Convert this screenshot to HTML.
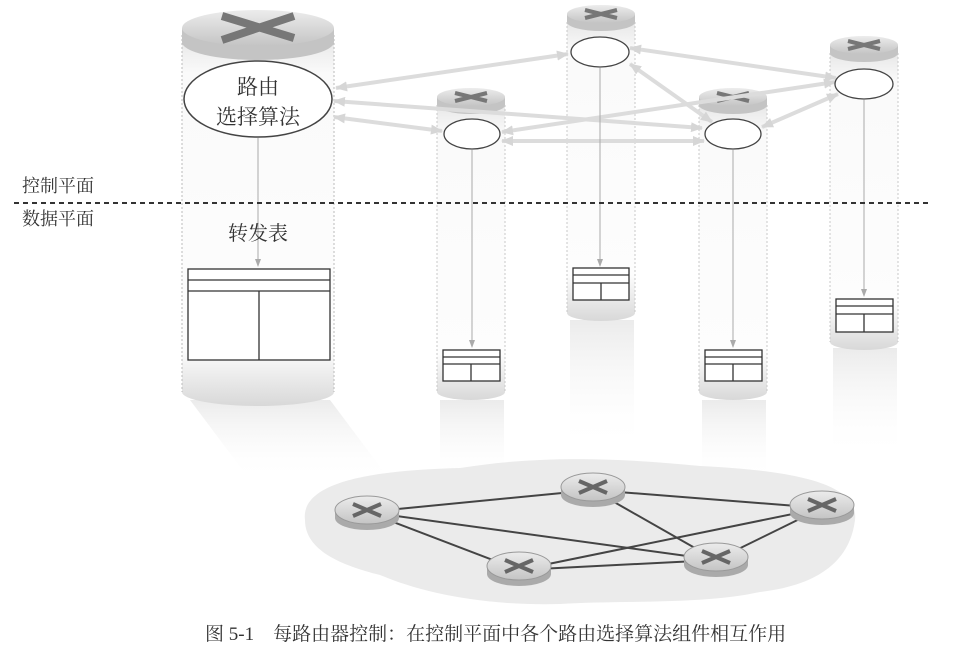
<!DOCTYPE html>
<html><head><meta charset="utf-8"><style>
body{margin:0;background:#fff;}
svg{display:block;font-family:"Liberation Serif","Noto Serif CJK SC",serif;}
</style></head><body>
<svg width="954" height="663" viewBox="0 0 954 663">
<defs>
<linearGradient id="cap" x1="0" y1="0" x2="0" y2="1"><stop offset="0" stop-color="#ececec"/><stop offset="1" stop-color="#c4c4c4"/></linearGradient>
<linearGradient id="body" x1="0" y1="0" x2="0" y2="1"><stop offset="0" stop-color="#e2e2e2"/><stop offset="0.12" stop-color="#fafafa"/><stop offset="0.85" stop-color="#fdfdfd"/><stop offset="1" stop-color="#d8d8d8"/></linearGradient>
<linearGradient id="refl" x1="0" y1="0" x2="0" y2="1"><stop offset="0" stop-color="#ebebeb"/><stop offset="1" stop-color="#fff" stop-opacity="0"/></linearGradient>
<marker id="ar" markerUnits="userSpaceOnUse" markerWidth="12" markerHeight="10" refX="11" refY="5" orient="auto-start-reverse"><path d="M0,0 L12,5 L0,10z" fill="#d6d6d6"/></marker>
<marker id="ad" markerUnits="userSpaceOnUse" markerWidth="8" markerHeight="8" refX="7" refY="4" orient="auto"><path d="M0,1 L8,4 L0,7z" fill="#aaa"/></marker>
</defs>

<path d="M190,400 L330,400 L390,480 L250,480z" fill="url(#refl)"/>
<rect x="440" y="400" width="64" height="80" fill="url(#refl)"/>
<rect x="570" y="320" width="64" height="130" fill="url(#refl)"/>
<rect x="702" y="400" width="64" height="80" fill="url(#refl)"/>
<rect x="833" y="348" width="64" height="110" fill="url(#refl)"/>

<path d="M305,520 C300,480 380,470 460,468 C540,455 620,458 700,466 C780,470 860,480 855,520 C850,560 820,585 760,592 C700,605 620,600 560,604 C480,606 420,592 380,575 C340,565 305,550 305,520z" fill="#ebebeb"/>

<path d="M182,28 L182,392 A76,14 0 0 0 334,392 L334,28z" fill="url(#body)"/>
<line x1="182" y1="35" x2="182" y2="392" stroke="#bbb" stroke-dasharray="2,2"/>
<line x1="334" y1="35" x2="334" y2="392" stroke="#bbb" stroke-dasharray="2,2"/>
<path d="M182,28 L182,42 A76,18 0 0 0 334,42 L334,28z" fill="#c4c4c4"/>
<ellipse cx="258" cy="28" rx="76" ry="18" fill="url(#cap)"/>
<path d="M222,16 L294,38 M222,40 L294,16" stroke="#777" stroke-width="8"/>

<g>
<path d="M437,97 L437,392 A34,8 0 0 0 505,392 L505,97z" fill="url(#body)"/>
<path d="M437,97 L437,105 A34,9 0 0 0 505,105 L505,97z" fill="#c4c4c4"/>
<ellipse cx="471" cy="97" rx="34" ry="9" fill="url(#cap)"/>
<path d="M455,93 L487,101 M455,101 L487,93" stroke="#777" stroke-width="4"/>
<path d="M567,14 L567,313 A34,8 0 0 0 635,313 L635,14z" fill="url(#body)"/>
<path d="M567,14 L567,22 A34,9 0 0 0 635,22 L635,14z" fill="#c4c4c4"/>
<ellipse cx="601" cy="14" rx="34" ry="9" fill="url(#cap)"/>
<path d="M585,10 L617,18 M585,18 L617,10" stroke="#777" stroke-width="4"/>
<path d="M699,97 L699,392 A34,8 0 0 0 767,392 L767,97z" fill="url(#body)"/>
<path d="M699,97 L699,105 A34,9 0 0 0 767,105 L767,97z" fill="#c4c4c4"/>
<ellipse cx="733" cy="97" rx="34" ry="9" fill="url(#cap)"/>
<path d="M717,93 L749,101 M717,101 L749,93" stroke="#777" stroke-width="4"/>
<path d="M830,45 L830,342 A34,8 0 0 0 898,342 L898,45z" fill="url(#body)"/>
<path d="M830,45 L830,53 A34,9 0 0 0 898,53 L898,45z" fill="#c4c4c4"/>
<ellipse cx="864" cy="45" rx="34" ry="9" fill="url(#cap)"/>
<path d="M848,41 L880,49 M848,49 L880,41" stroke="#777" stroke-width="4"/>
</g>
<g stroke="#c8c8c8" stroke-dasharray="2,2">
<line x1="437" y1="105" x2="437" y2="392"/><line x1="505" y1="105" x2="505" y2="392"/>
<line x1="567" y1="22" x2="567" y2="313"/><line x1="635" y1="22" x2="635" y2="313"/>
<line x1="699" y1="105" x2="699" y2="392"/><line x1="767" y1="105" x2="767" y2="392"/>
<line x1="830" y1="53" x2="830" y2="342"/><line x1="898" y1="53" x2="898" y2="342"/>
</g>

<g stroke="#dcdcdc" stroke-width="4" fill="none" marker-end="url(#ar)" marker-start="url(#ar)">
<line x1="336" y1="88" x2="568" y2="54"/>
<line x1="334" y1="101" x2="702" y2="128"/>
<line x1="334" y1="117" x2="442" y2="131"/>
<line x1="502" y1="132" x2="835" y2="82"/>
<line x1="502" y1="141" x2="704" y2="141"/>
<line x1="630" y1="64" x2="712" y2="122"/>
<line x1="630" y1="48" x2="836" y2="78"/>
<line x1="762" y1="127" x2="838" y2="94"/>
</g>

<ellipse cx="258" cy="99" rx="74" ry="38" fill="#fff" stroke="#444" stroke-width="1.5"/>
<text x="258" y="94" text-anchor="middle" font-size="21" fill="#333">路由</text>
<text x="258" y="124" text-anchor="middle" font-size="21" fill="#333">选择算法</text>
<ellipse cx="472" cy="134" rx="28" ry="15" fill="#fff" stroke="#444" stroke-width="1.3"/>
<ellipse cx="600" cy="52" rx="29" ry="15" fill="#fff" stroke="#444" stroke-width="1.3"/>
<ellipse cx="733" cy="134" rx="28" ry="15" fill="#fff" stroke="#444" stroke-width="1.3"/>
<ellipse cx="864" cy="84" rx="29" ry="15" fill="#fff" stroke="#444" stroke-width="1.3"/>

<g stroke="#aaa" stroke-width="1" marker-end="url(#ad)">
<line x1="258" y1="138" x2="258" y2="266"/>
<line x1="472" y1="150" x2="472" y2="347"/>
<line x1="600" y1="68" x2="600" y2="266"/>
<line x1="733" y1="150" x2="733" y2="347"/>
<line x1="864" y1="100" x2="864" y2="296"/>
</g>

<text x="258" y="240" text-anchor="middle" font-size="20" fill="#333">转发表</text>

<g fill="#fff" stroke="#333" stroke-width="1.3">
<rect x="188" y="269" width="142" height="91"/>
<path d="M188,280 H330 M188,291 H330 M259,291 V360" fill="none"/>
<rect x="443" y="350" width="57" height="31"/>
<path d="M443,357 H500 M443,364 H500 M471,364 V381" fill="none"/>
<rect x="573" y="268" width="56" height="32"/>
<path d="M573,275 H629 M573,283 H629 M601,283 V300" fill="none"/>
<rect x="705" y="350" width="57" height="31"/>
<path d="M705,357 H762 M705,364 H762 M733,364 V381" fill="none"/>
<rect x="836" y="299" width="57" height="33"/>
<path d="M836,306 H893 M836,314 H893 M864,314 V332" fill="none"/>
</g>

<line x1="14" y1="203" x2="930" y2="203" stroke="#333" stroke-width="2" stroke-dasharray="5,4"/>
<text x="22" y="192" font-size="18" fill="#333">控制平面</text>
<text x="22" y="225" font-size="18" fill="#333">数据平面</text>

<g stroke="#444" stroke-width="2">
<line x1="367" y1="512" x2="593" y2="490"/>
<line x1="367" y1="512" x2="716" y2="560"/>
<line x1="367" y1="512" x2="519" y2="570"/>
<line x1="593" y1="490" x2="822" y2="508"/>
<line x1="593" y1="490" x2="716" y2="560"/>
<line x1="519" y1="570" x2="822" y2="508"/>
<line x1="519" y1="570" x2="716" y2="560"/>
<line x1="716" y1="560" x2="822" y2="508"/>
</g>
<g>
<g transform="translate(367,510)"><path d="M-32,0 L-32,8 A32,12 0 0 0 32,8 L32,0z" fill="#aaa"/><ellipse rx="32" ry="14" fill="url(#cap)" stroke="#999"/><path d="M-14,-6 L14,6 M-14,6 L14,-6" stroke="#666" stroke-width="4"/></g>
<g transform="translate(593,487)"><path d="M-32,0 L-32,8 A32,12 0 0 0 32,8 L32,0z" fill="#aaa"/><ellipse rx="32" ry="14" fill="url(#cap)" stroke="#999"/><path d="M-14,-6 L14,6 M-14,6 L14,-6" stroke="#666" stroke-width="4"/></g>
<g transform="translate(822,505)"><path d="M-32,0 L-32,8 A32,12 0 0 0 32,8 L32,0z" fill="#aaa"/><ellipse rx="32" ry="14" fill="url(#cap)" stroke="#999"/><path d="M-14,-6 L14,6 M-14,6 L14,-6" stroke="#666" stroke-width="4"/></g>
<g transform="translate(519,566)"><path d="M-32,0 L-32,8 A32,12 0 0 0 32,8 L32,0z" fill="#aaa"/><ellipse rx="32" ry="14" fill="url(#cap)" stroke="#999"/><path d="M-14,-6 L14,6 M-14,6 L14,-6" stroke="#666" stroke-width="4"/></g>
<g transform="translate(716,557)"><path d="M-32,0 L-32,8 A32,12 0 0 0 32,8 L32,0z" fill="#aaa"/><ellipse rx="32" ry="14" fill="url(#cap)" stroke="#999"/><path d="M-14,-6 L14,6 M-14,6 L14,-6" stroke="#666" stroke-width="4"/></g>
</g>

<text x="205" y="640" font-size="19" fill="#333">图 5-1　每路由器控制：在控制平面中各个路由选择算法组件相互作用</text>
</svg>
</body></html>
